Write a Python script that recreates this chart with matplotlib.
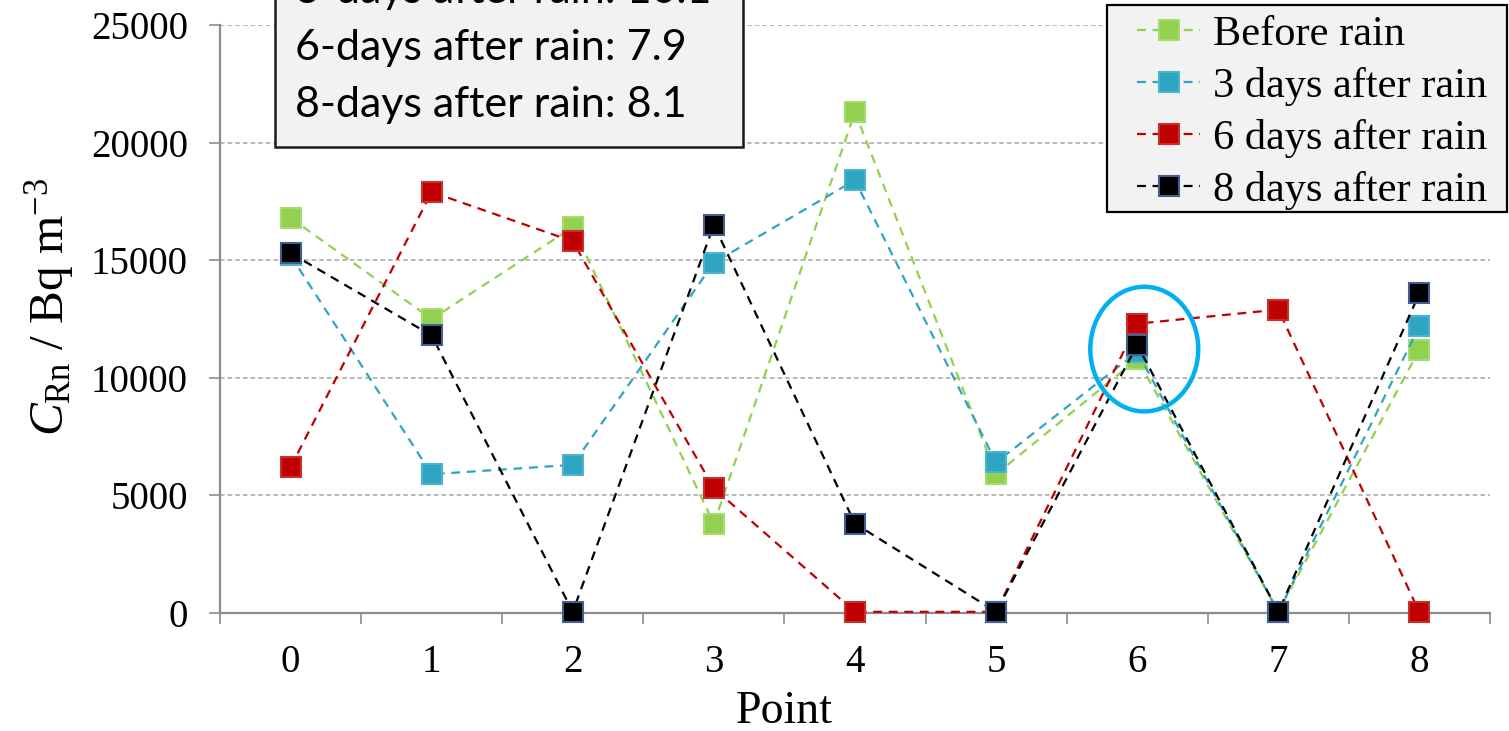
import matplotlib
matplotlib.use("Agg")
import matplotlib.pyplot as plt
from matplotlib.patches import Ellipse, Rectangle

points = [0, 1, 2, 3, 4, 5, 6, 7, 8]
before_rain = [16800, 12500, 16400, 3800, 21300, 5900, 10800, 50, 11200]
after_3_days = [15200, 5900, 6300, 14900, 18400, 6400, 11100, 50, 12200]
after_6_days = [6200, 17900, 15800, 5300, 50, 50, 12300, 12900, 30]
after_8_days = [15300, 11800, 50, 16500, 3800, 50, 11400, 50, 13600]
series_labels = ["Before rain", "3 days after rain", "6 days after rain", "8 days after rain"]
box_lines = ["3-days after rain: 10.1", "6-days after rain: 7.9", "8-days after rain: 8.1"]
y_ticks = [0, 5000, 10000, 15000, 20000, 25000]

plt.rcParams["mathtext.fontset"] = "custom"
plt.rcParams["mathtext.rm"] = "Liberation Serif"
plt.rcParams["mathtext.it"] = "Liberation Serif:italic"
plt.rcParams["font.family"] = ["Liberation Serif", "DejaVu Serif"]

W, H = 1509, 731
fig = plt.figure(figsize=(W / 100, H / 100), dpi=100)
ax = fig.add_axes([220 / W, 1 - 613 / H, (1490 - 220) / W, (613 - 25) / H])

styles = [
    (before_rain, "#92D050", "#A6DC6E", "#92D050"),
    (after_3_days, "#2EA5C2", "#4DB4CE", "#2EA5C2"),
    (after_6_days, "#C00000", "#C83030", "#C00000"),
    (after_8_days, "#000000", "#3F5F95", "#000000"),
]
handles = []
for (vals, fc, ec, lc), lab in zip(styles, series_labels):
    ln, = ax.plot(points, vals, linestyle=(0, (4, 3)), color=lc, lw=1.6,
                  marker="s", markersize=15, markerfacecolor=fc,
                  markeredgecolor=ec, markeredgewidth=1.5, label=lab,
                  clip_on=False, zorder=3)
    handles.append(ln)

ax.set_xlim(-0.5, 8.5)
ax.set_ylim(0, 25000)
ax.set_yticks(y_ticks)
ax.set_yticklabels([str(v) for v in y_ticks])
ax.set_xticks(points)
ax.set_xticklabels([str(p) for p in points])
ax.set_xticks([p + 0.5 for p in points[:-1]] + [-0.5, 8.5], minor=True)

for s in ["top", "right"]:
    ax.spines[s].set_visible(False)
for s in ["left", "bottom"]:
    ax.spines[s].set_color("#8C8C8C")
    ax.spines[s].set_linewidth(1.6)

ax.yaxis.grid(True, linestyle=(0, (3, 2)), color="#A6A6A6", lw=1.1)
ax.set_axisbelow(True)

ax.tick_params(axis="y", which="major", direction="out", length=8, width=1.2,
               color="#8C8C8C", pad=15, labelsize=28)
ax.tick_params(axis="x", which="major", length=0, pad=22, labelsize=28)
ax.tick_params(axis="x", which="minor", direction="out", length=8, width=1.2,
               color="#8C8C8C")

ax.set_xlabel("Point", fontsize=33)
ax.xaxis.set_label_coords((784 - 220) / 1270, (613 - 712) / 588)
ax.xaxis.label.set_va("center")
ax.set_ylabel(r"$C_{\mathrm{Rn}}$ / Bq m$^{-3}$", fontsize=35.5)
ax.yaxis.set_label_coords((50 - 220) / 1270, (613 - 307) / 588)
ax.yaxis.label.set_va("center")

# highlight ellipse around point 6
ax.add_patch(Ellipse((6.05, 11220), width=0.765, height=5300, fill=False,
                     edgecolor="#00B0F0", lw=3.2, zorder=4))

# legend with custom frame (frame drawn inside the axes, under the legend)
leg_frame = Rectangle((1107 / W, 1 - 212 / H), (1507 - 1107) / W, (212 - 5) / H,
                      transform=fig.transFigure, facecolor="#F2F2F2",
                      edgecolor="#000000", lw=1.6, zorder=5, clip_on=False)
ax.add_artist(leg_frame)
leg = ax.legend(handles=handles, loc="upper left",
                bbox_to_anchor=(1137 / W, 1 - 15 / H), bbox_transform=fig.transFigure,
                borderaxespad=0, borderpad=0, fontsize=30.5, frameon=False,
                labelspacing=0.31, handlelength=1.49, handletextpad=0.3)
leg.set_zorder(6)

# text box (top cut off, as in the reference)
rect = Rectangle((275 / W, 1 - 147 / H), (743 - 275) / W, 200 / H,
                 transform=fig.transFigure, facecolor="#F2F2F2",
                 edgecolor="#1A1A1A", lw=1.8, zorder=5, clip_on=False)
fig.add_artist(rect)
for i, t in enumerate(box_lines):
    yc = -9 + 57 * i
    fig.text(295 / W, 1 - yc / H, t, ha="left", va="center", fontsize=31,
             family=["Lato", "DejaVu Sans"], color="#000000", zorder=6)

fig.savefig("out.png", dpi=100)
